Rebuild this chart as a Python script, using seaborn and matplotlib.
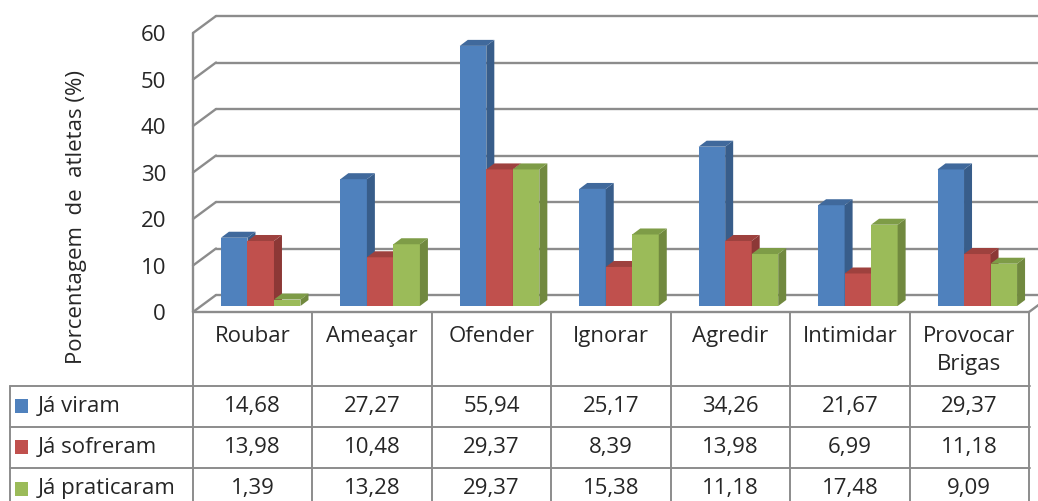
# 3D-style grouped column chart with a data table underneath
import numpy as np
import pandas as pd
import matplotlib
matplotlib.use("Agg")
import matplotlib.pyplot as plt
import matplotlib.transforms as mtransforms
from matplotlib.patches import Polygon, Rectangle
import seaborn as sns

# Data
categories = ["Roubar", "Ameaçar", "Ofender", "Ignorar", "Agredir", "Intimidar", "Provocar\nBrigas"]
series = ["Já viram", "Já sofreram", "Já praticaram"]
ja_viram = [14.68, 27.27, 55.94, 25.17, 34.26, 21.67, 29.37]
ja_sofreram = [13.98, 10.48, 29.37, 8.39, 13.98, 6.99, 11.18]
ja_praticaram = [1.39, 13.28, 29.37, 15.38, 11.18, 17.48, 9.09]
y_ticks = [0, 10, 20, 30, 40, 50, 60]

colors = ["#4F81BD", "#C0504D", "#9BBB59"]
side_colors = ["#385D8A", "#8C3836", "#71893F"]
top_colors = ["#40699C", "#9E413E", "#7E9C47"]
grid_color = "#8C8C8C"
text_color = "#262626"

values = [ja_viram, ja_sofreram, ja_praticaram]
rows = []
for s, vals in zip(series, values):
    for c, v in zip(categories, vals):
        rows.append({"categoria": c, "serie": s, "valor": v})
df = pd.DataFrame(rows)

sns.set_theme(style="white")
plt.rcParams['font.family'] = ['Open Sans', 'DejaVu Sans']
fs = 16

W, H = 1038, 501
fig = plt.figure(figsize=(W / 100, H / 100), dpi=100)
# front plane of the plot: x 193..1029 px, y 312 (0) .. 33 (60) px
ax = fig.add_axes([193 / W, (H - 312) / H, 836 / W, 279 / H])

sns.barplot(data=df, x="categoria", y="valor", hue="serie", order=categories,
            hue_order=series, palette=colors, width=0.666, saturation=1,
            errorbar=None, legend=False, ax=ax, edgecolor="none", linewidth=0)

ax.set_xlim(-0.5, 6.5)
ax.set_ylim(0, 60)
for sp in ax.spines.values():
    sp.set_visible(False)
ax.set_xticks([])
ax.set_xlabel("")
ax.set_ylabel("")
ax.set_yticks(y_ticks)
ax.tick_params(axis="y", length=0, pad=19.4, labelsize=fs, labelcolor=text_color)
ax.patch.set_alpha(0)

ux = 836 / 7      # px per category
uy = 279 / 60     # px per unit
wall_dx, wall_dy = 23 / ux, 17 / uy     # depth of the floor / walls
bar_dx, bar_dy = 8 / ux, 6 / uy         # bars sit 1/3 into depth
dep_dx, dep_dy = 8 / ux, 6 / uy         # bar depth

# back wall gridlines and left wall slants
for v in y_ticks:
    ax.plot([-0.5 + wall_dx, 6.5 + wall_dx], [v + wall_dy, v + wall_dy],
            color=grid_color, lw=1.7, clip_on=False, zorder=1)
    ax.plot([-0.5, -0.5 + wall_dx], [v, v + wall_dy],
            color=grid_color, lw=1.7, clip_on=False, zorder=1)
ax.plot([-0.5, -0.5], [0, 60], color=grid_color, lw=1.7, clip_on=False, zorder=1)
ax.plot([6.5, 6.5 + wall_dx], [0, wall_dy], color=grid_color, lw=1.7, clip_on=False, zorder=1)
ax.plot([-0.5, 6.5], [0, 0], color=grid_color, lw=1.7, clip_on=False, zorder=1)

# give the bars depth
for i, cont in enumerate(ax.containers):
    for p in cont.patches:
        p.set_x(p.get_x() + bar_dx)
        p.set_y(p.get_y() + bar_dy)
        p.set_zorder(3 + i)
        x, y, w, h = p.get_x(), p.get_y(), p.get_width(), p.get_height()
        side = Polygon([(x + w, y), (x + w + dep_dx, y + dep_dy),
                        (x + w + dep_dx, y + h + dep_dy), (x + w, y + h)],
                       closed=True, facecolor=side_colors[i], edgecolor="none",
                       zorder=3 + i, clip_on=False)
        top = Polygon([(x, y + h), (x + dep_dx, y + h + dep_dy),
                       (x + w + dep_dx, y + h + dep_dy), (x + w, y + h)],
                      closed=True, facecolor=top_colors[i], edgecolor="none",
                      zorder=3 + i, clip_on=False)
        ax.add_patch(side)
        ax.add_patch(top)

# y label
fig.text(77 / W, 1 - 217 / H, "Porcentagem  de  atletas (%)", rotation=90,
         ha="center", va="center", fontsize=fs, color=text_color)

# data table (pixel coordinates, origin top-left)
pxt = mtransforms.Affine2D().scale(1 / W, -1 / H).translate(0, 1) + fig.transFigure
tbl = mtransforms.blended_transform_factory(ax.transData, pxt)

col_left = -0.5
for i in range(len(categories) + 1):
    ax.plot([col_left + i, col_left + i], [312, 505], color=grid_color, lw=1.4,
            transform=tbl, clip_on=False, zorder=1)
ax.plot([10, 10], [386, 505], color=grid_color, lw=1.4, transform=pxt, clip_on=False)
for yy in [386, 427, 468]:
    ax.plot([10, 1030], [yy, yy], color=grid_color, lw=1.4, transform=pxt, clip_on=False)

for i, c in enumerate(categories):
    ax.text(i, 326, c, ha="center", va="top", fontsize=fs, color=text_color,
            transform=tbl, linespacing=1.45)

row_centers = [406.5, 447.5, 489]
for r, (s, vals) in enumerate(zip(series, values)):
    yc = row_centers[r]
    ax.add_patch(Rectangle((15, yc - 7), 13, 14, facecolor=colors[r],
                           edgecolor="none", transform=pxt, clip_on=False))
    ax.text(38, yc, s, ha="left", va="center", fontsize=fs, color=text_color,
            transform=pxt)
    for i, v in enumerate(vals):
        ax.text(i, yc, f"{v:.2f}".replace(".", ","), ha="center", va="center",
                fontsize=fs, color=text_color, transform=tbl)

fig.savefig("out.png", dpi=100)
